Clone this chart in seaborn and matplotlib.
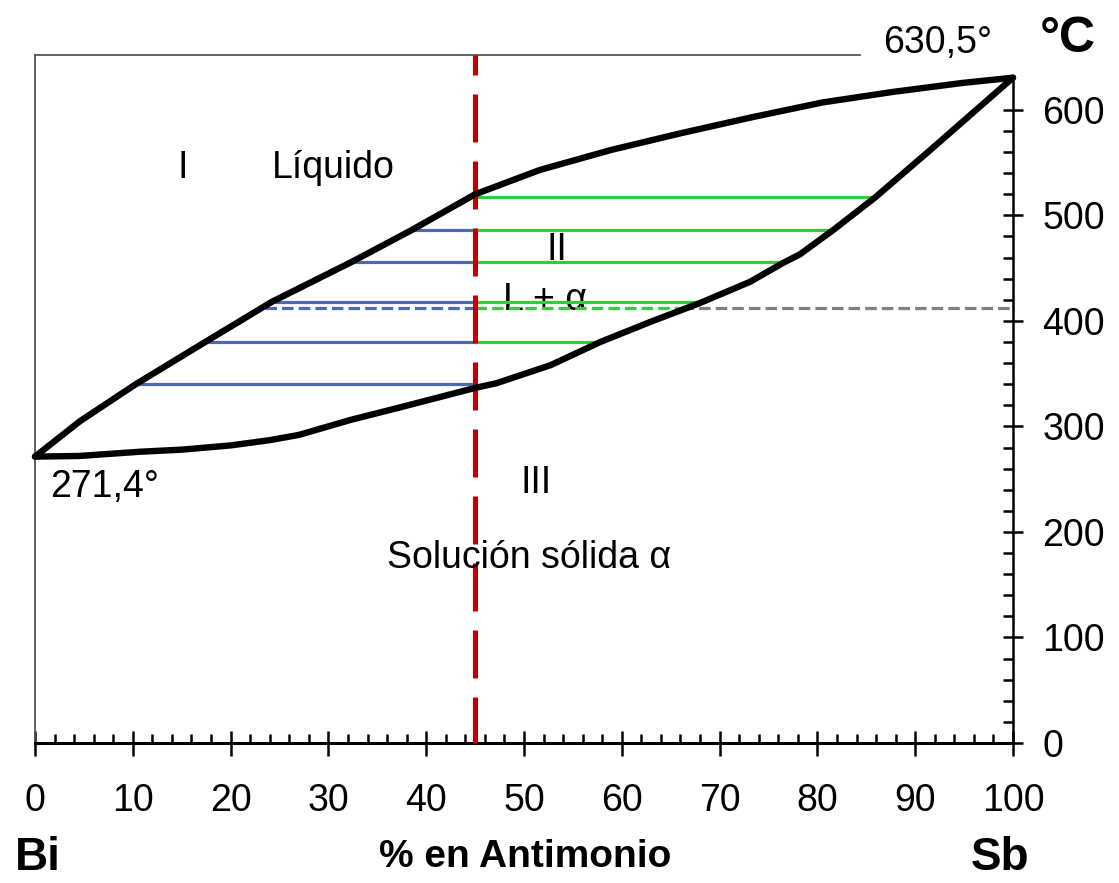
import matplotlib
matplotlib.use("Agg")
import matplotlib.pyplot as plt
from matplotlib.ticker import MultipleLocator, FixedLocator
import seaborn as sns
import pandas as pd

# ---------------- data ----------------
liq_x = [0, 4.6, 10.3, 17.4, 24.2, 32.4, 38.5, 45, 51.6, 58.9, 66.1, 73.3, 80.5, 87.7, 94.9, 100]
liq_t = [271.4, 305, 340, 380, 418, 456, 486, 520, 543, 562, 578, 593, 607, 617, 625.6, 630.5]
sol_x = [0, 4.5, 10.7, 15, 20, 24, 27, 32.2, 37.3, 45, 47.2, 52.7, 57.8, 62.9, 68, 73.1,
         76.5, 78.2, 81.6, 85.9, 91.3, 100]
sol_t = [271.4, 272, 276, 278, 282, 287, 292, 306, 318, 336.5, 341, 358, 380, 399, 417, 437,
         455, 463, 486, 517, 560, 630.5]

alloy_x = 45
tie_t = [517, 486, 456, 418, 380, 340]
tie_liq = [45, 38.5, 32.4, 24.2, 17.4, 10.3]
tie_sol = [85.9, 81.8, 76.6, 68.3, 57.8, None]

dash_t = 412
dash_liq = 23.5
dash_sol = 66.2

x_ticks = list(range(0, 101, 10))
y_ticks = list(range(0, 601, 100))

# ---------------- style ----------------
sns.set_style("white")
plt.rcParams["font.family"] = ["Liberation Sans", "DejaVu Sans"]
plt.rcParams["text.color"] = "black"
plt.rcParams["xtick.color"] = "black"
plt.rcParams["ytick.color"] = "black"

W, H, DPI = 1119, 883, 100
fig = plt.figure(figsize=(W / DPI, H / DPI), dpi=DPI)
ax = fig.add_axes([35 / W, 1 - 743 / H, (1013 - 35) / W, (743 - 55) / H])
ax.set_xlim(0, 100)
ax.set_ylim(0, 652)

BLUE = "#4A6AB4"
GREEN = "#36CC36"
RED = "#C00000"
GRAY = "#808080"

# tie lines
for t, xl, xs in zip(tie_t, tie_liq, tie_sol):
    if xl < alloy_x:
        ax.plot([xl, alloy_x], [t, t], color=BLUE, lw=2.3, solid_capstyle="butt", zorder=2)
    if xs is not None:
        ax.plot([alloy_x, xs], [t, t], color=GREEN, lw=2.3, solid_capstyle="butt", zorder=2)

dstyle = (0, (3.6, 1.6))
ax.plot([dash_liq, alloy_x], [dash_t, dash_t], color=BLUE, lw=2.3, ls=dstyle, zorder=2)
ax.plot([alloy_x, dash_sol], [dash_t, dash_t], color=GREEN, lw=2.3, ls=dstyle, zorder=2)
ax.plot([dash_sol, 100], [dash_t, dash_t], color=GRAY, lw=2.3, ls=dstyle, zorder=2)

# curves
curves = pd.DataFrame({
    "x": liq_x + sol_x,
    "t": liq_t + sol_t,
    "curve": ["liq"] * len(liq_x) + ["sol"] * len(sol_x),
})
sns.lineplot(data=curves, x="x", y="t", units="curve", estimator=None, sort=False,
             color="black", lw=4.6, ax=ax, zorder=4, clip_on=False)
for ln in ax.lines[-2:]:
    ln.set_solid_joinstyle("round")
    ln.set_solid_capstyle("round")

# red alloy line (drawn from top)
ax.plot([alloy_x, alloy_x], [652, 0], color=RED, lw=3.6,
        ls=(5.6, (9.6, 3.8)), zorder=3, clip_on=False)

# spines
for s in ["left", "top"]:
    ax.spines[s].set_color("#555555")
    ax.spines[s].set_linewidth(1.3)
ax.spines["top"].set_bounds(0, 84.4)
ax.spines["right"].set_color("black")
ax.spines["right"].set_linewidth(1.8)
ax.spines["right"].set_bounds(0, 630.5)
ax.spines["bottom"].set_color("black")
ax.spines["bottom"].set_linewidth(2.2)

ax.set_xticks(x_ticks)
ax.set_xticklabels([str(v) for v in x_ticks])
ax.xaxis.set_minor_locator(MultipleLocator(2))
ax.yaxis.tick_right()
ax.set_yticks(y_ticks)
ax.set_yticklabels([str(v) for v in y_ticks])
ax.yaxis.set_minor_locator(FixedLocator([v for v in range(20, 600, 20) if v % 100]))

ax.tick_params(axis="x", which="major", direction="inout", length=18, width=1.8,
               labelsize=27, pad=20, colors="black", bottom=True)
ax.tick_params(axis="x", which="minor", direction="in", length=6.5, width=1.8, bottom=True)
ax.tick_params(axis="y", which="major", direction="inout", length=14, width=1.8,
               labelsize=27, pad=14, right=True, left=False, colors="black")
ax.tick_params(axis="y", which="minor", direction="in", length=7, width=1.8, right=True, left=False)
ax.set_xlabel("")
ax.set_ylabel("")

# annotations
FS = 27
ax.text(15.1, 535.5, "I", fontsize=FS, ha="center", va="baseline")
ax.text(24.2, 535.5, "Líquido", fontsize=FS, ha="left", va="baseline")
ax.text(53.4, 458, "II", fontsize=FS, ha="center", va="baseline")
ax.text(47.9, 410, "L + α", fontsize=FS, ha="left", va="baseline", zorder=1)
ax.text(51.2, 237, "III", fontsize=FS, ha="center", va="baseline")
ax.text(36.0, 166, "Solución sólida α", fontsize=FS, ha="left", va="baseline")
ax.text(1.5, 233, "271,4°", fontsize=FS, ha="left", va="baseline")
ax.text(86.7, 654, "630,5°", fontsize=FS, ha="left", va="baseline", clip_on=False)

fig.text(1068 / W, 1 - 52 / H, "°C", fontsize=36, fontweight="bold", ha="center", va="baseline")
fig.text(38 / W, 1 - 870 / H, "Bi", fontsize=33, fontweight="bold", ha="center", va="baseline")
fig.text(525 / W, 1 - 867 / H, "% en Antimonio", fontsize=28, fontweight="bold", ha="center", va="baseline")
fig.text(1000 / W, 1 - 870 / H, "Sb", fontsize=33, fontweight="bold", ha="center", va="baseline")

fig.savefig("out.png", dpi=DPI)
